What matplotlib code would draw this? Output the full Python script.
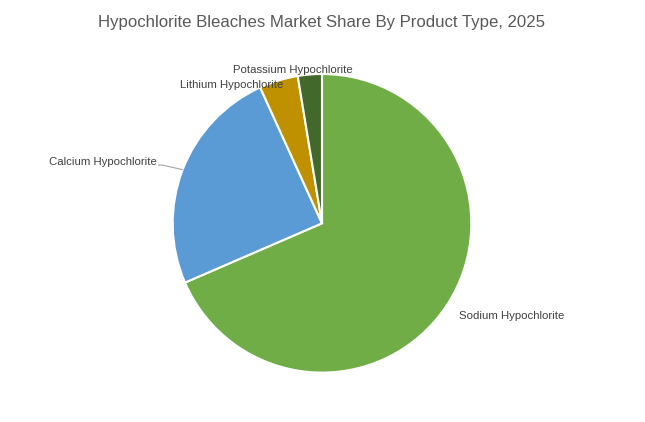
import matplotlib
matplotlib.use('Agg')
import matplotlib.pyplot as plt
import numpy as np

categorias = ['Sodium Hypochlorite', 'Calcium Hypochlorite', 'Lithium Hypochlorite', 'Potassium Hypochlorite']
valores = [68.5, 24.7, 4.2, 2.6]
cores = ['#70AD47', '#5B9BD5', '#BF9000', '#43682B']

plt.rcParams['font.family'] = ['Liberation Sans', 'DejaVu Sans']

fig = plt.figure(figsize=(6.45, 4.22), dpi=100)
fig.patch.set_facecolor('white')

# eixo posicionado para que o raio 1 do pie caia no lugar certo
ax = fig.add_axes([172.7 / 645, 49.4 / 422, 298.6 / 645, 298.6 / 422])
wedges, _ = ax.pie(valores, colors=cores, startangle=90, counterclock=False,
                   wedgeprops=dict(edgecolor='white', linewidth=1.5))
ax.set_xlim(-1, 1)
ax.set_ylim(-1, 1)
ax.set_aspect('equal')
ax.axis('off')

cor_texto = '#404040'
fs = 8.2

ax.text(0.918, -0.621, categorias[0], ha='left', va='center', fontsize=fs, color=cor_texto)

# calcium com linha guia ate o meio da fatia
w = wedges[1]
ang = np.deg2rad((w.theta1 + w.theta2) / 2)
px, py = np.cos(ang), np.sin(ang)
ax.text(-1.105, 0.41, categorias[1], ha='right', va='center', fontsize=fs, color=cor_texto)
ax.plot([-1.095, -1.07, px], [0.39, 0.39, py], color='#A6A6A6', lw=0.8, clip_on=False)

ax.text(-0.606, 0.926, categorias[2], ha='center', va='center', fontsize=fs, color=cor_texto)
ax.text(-0.198, 1.027, categorias[3], ha='center', va='center', fontsize=fs, color=cor_texto)

fig.text(322 / 645, 1 - 23 / 422, 'Hypochlorite Bleaches Market Share By Product Type, 2025',
         ha='center', va='center', fontsize=12.1, color='#595959')

plt.savefig('out.png', dpi=100, facecolor='white')
